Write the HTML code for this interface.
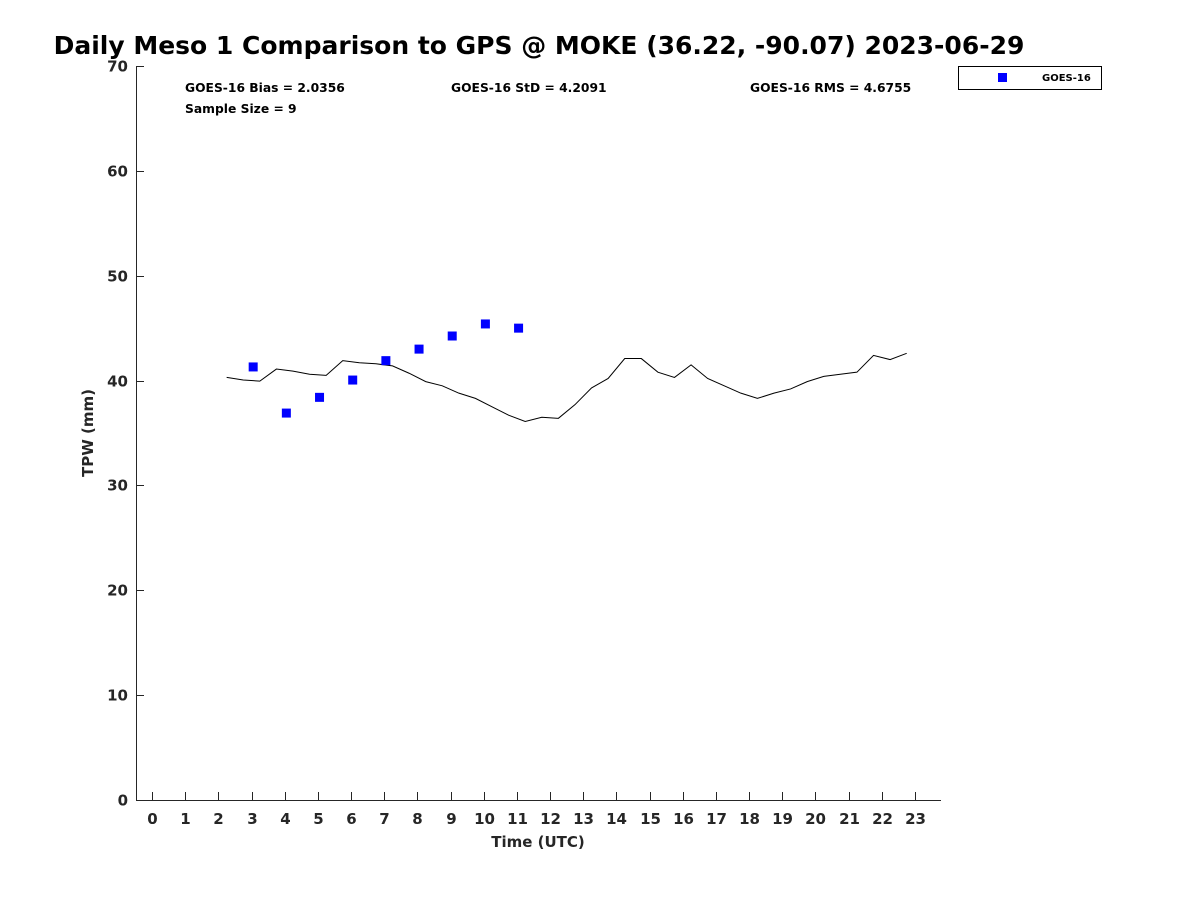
<!DOCTYPE html>
<html><head><meta charset="utf-8"><style>
body{margin:0;background:#fff;width:1200px;height:900px;overflow:hidden}
text{font-family:"DejaVu Sans","Liberation Sans",sans-serif;font-weight:bold;fill:#262626}
</style></head><body>
<svg id="chart" width="1200" height="900" xmlns="http://www.w3.org/2000/svg">
<rect width="1200" height="900" fill="#fff"/>
<text x="539" y="54" text-anchor="middle" font-size="25" style="fill:#000">Daily Meso 1 Comparison to GPS @ MOKE (36.22, -90.07) 2023-06-29</text>
<g id="axes"></g>
<g id="marks"></g>
<text x="185" y="92" font-size="12.3" style="fill:#000">GOES-16 Bias = 2.0356</text>
<text x="451" y="92" font-size="12.3" style="fill:#000">GOES-16 StD = 4.2091</text>
<text x="750" y="92" font-size="12.3" style="fill:#000">GOES-16 RMS = 4.6755</text>
<text x="185" y="113" font-size="12.3" style="fill:#000">Sample Size = 9</text>
<g>
<rect x="958.5" y="66.5" width="143" height="23" fill="#fff" stroke="#000" stroke-width="1"/>
<rect x="998" y="73" width="9" height="9" fill="#0000ff"/>
<text x="1042" y="81" font-size="10" style="fill:#000">GOES-16</text>
</g>
<text transform="translate(93,433) rotate(-90)" text-anchor="middle" font-size="15">TPW (mm)</text>
<text x="538" y="847" text-anchor="middle" font-size="15">Time (UTC)</text>
</svg>
<script>
const xTicks=[0,1,2,3,4,5,6,7,8,9,10,11,12,13,14,15,16,17,18,19,20,21,22,23];
const yTicks=[0,10,20,30,40,50,60,70];
const gpsTimes=[2.25,2.75,3.25,3.75,4.25,4.75,5.25,5.75,6.25,6.75,7.25,7.75,8.25,8.75,9.25,9.75,10.25,10.75,11.25,11.75,12.25,12.75,13.25,13.75,14.25,14.75,15.25,15.75,16.25,16.75,17.25,17.75,18.25,18.75,19.25,19.75,20.25,20.75,21.25,21.75,22.25,22.75];
const gpsValues=[40.3,40.05,39.95,41.1,40.9,40.6,40.5,41.9,41.7,41.6,41.4,40.7,39.9,39.5,38.8,38.3,37.5,36.7,36.1,36.5,36.4,37.7,39.3,40.2,42.1,42.1,40.8,40.3,41.5,40.2,39.5,38.8,38.3,38.8,39.2,39.9,40.4,40.6,40.8,42.4,42.0,42.6];
const goesTimes=[3.05,4.05,5.05,6.05,7.05,8.05,9.05,10.05,11.05];
const goesValues=[41.3,36.9,38.4,40.05,41.9,43.0,44.25,45.4,45.0];
const NS="http://www.w3.org/2000/svg";
const L=136,R=941,T=66,B=800;
const xs=h=>152+h*(915-152)/23;
const ys=v=>B-v*(B-T)/70;
function mk(tag,attrs,parent){const e=document.createElementNS(NS,tag);for(const k in attrs)e.setAttribute(k,attrs[k]);parent.appendChild(e);return e;}
const ax=document.getElementById('axes'),mg=document.getElementById('marks');
let e=mk('line',{x1:L,y1:B+0.5,x2:R,y2:B+0.5,stroke:'#262626'},ax);


e=mk('line',{x1:L+0.5,y1:T,x2:L+0.5,y2:B,stroke:'#262626'},ax);


xTicks.forEach(t=>{const x=Math.round(xs(t))+0.5;
 mk('line',{x1:x,y1:B,x2:x,y2:B-8,stroke:'#262626'},ax);
 const tx=mk('text',{x:x,y:B+24,'text-anchor':'middle','font-size':15},ax);tx.textContent=t;
 
 });
yTicks.forEach(t=>{const y=Math.round(ys(t))+0.5;
 mk('line',{x1:L,y1:y,x2:L+8,y2:y,stroke:'#262626'},ax);
 const tx=mk('text',{x:L-8,y:y+5,'text-anchor':'end','font-size':15},ax);tx.textContent=t;
 
 });
const pl=mk('polyline',{points:gpsTimes.map((t,i)=>xs(t)+','+ys(gpsValues[i])).join(' '),fill:'none',stroke:'#000','stroke-width':1},mg);


goesTimes.forEach((t,i)=>{const r=mk('rect',{x:xs(t)-4.5,y:ys(goesValues[i])-4.5,width:9,height:9,fill:'#0000ff'},mg);
 
 });
</script>
</body></html>
